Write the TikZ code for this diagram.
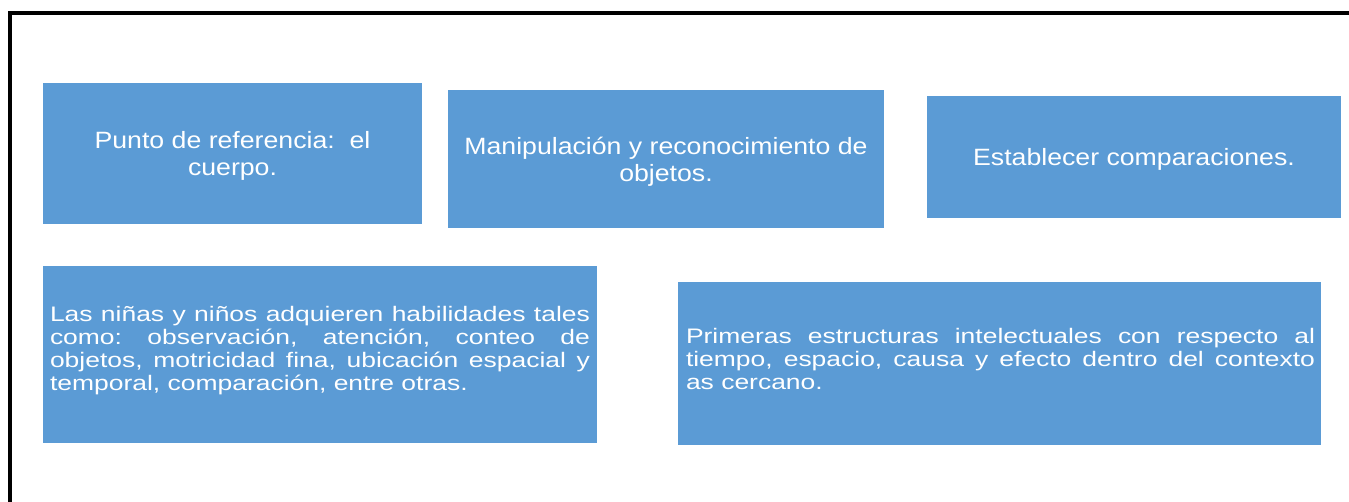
\documentclass[tikz,border=0pt]{standalone}
\usepackage{fontspec}
\setmainfont{Liberation Sans}
\newfontfamily\topfont[FakeStretch=1.13]{Liberation Sans}
\newfontfamily\botfont[FakeStretch=1.26]{Liberation Sans}
\definecolor{boxblue}{HTML}{5B9BD5}
\frenchspacing
\begin{document}
\begin{tikzpicture}[x=1pt,y=-1pt,
  box/.style={rectangle, fill=boxblue, inner sep=0pt},
  ttext/.style={text=white, inner sep=0pt, font=\topfont\fontsize{23.6}{27}\selectfont, align=center},
  jtext/.style={text=white, inner sep=0pt, align=justify, font=\botfont\fontsize{21}{23}\selectfont}]
\useasboundingbox (0,0) rectangle (1349,502);
\fill[white] (0,0) rectangle (1349,502);
\draw[line width=4pt, line join=miter] (1349,13) -- (10,13) -- (10,502);
\node[box, minimum width=379pt, minimum height=141pt] (b1) at (232.5,153.5) {};
\node[ttext] (t1) at (232.5,156) {Punto de referencia:\ \ el\\cuerpo.};
\node[box, minimum width=436pt, minimum height=138pt] (b2) at (666,159) {};
\node[ttext] (t2) at (666,161.5) {Manipulación y reconocimiento de\\objetos.};
\node[box, minimum width=414pt, minimum height=122pt] (b3) at (1134,157) {};
\node[ttext] (t3) at (1134,159) {Establecer comparaciones.};
\node[box, minimum width=554pt, minimum height=177pt] (b4) at (320,354.5) {};
\node[jtext, text width=540pt] (t4) at (320,350.5) {Las niñas y niños adquieren habilidades tales\linebreak como: observación, atención, conteo de\linebreak objetos, motricidad fina, ubicación espacial y\linebreak temporal, comparación, entre otras.};
\node[box, minimum width=643pt, minimum height=163pt] (b5) at (999.5,363.5) {};
\node[jtext, text width=629pt] (t5) at (1000.5,359) {Primeras estructuras intelectuales con respecto al\linebreak tiempo, espacio, causa y efecto dentro del contexto\linebreak as cercano.};
\end{tikzpicture}
\end{document}
